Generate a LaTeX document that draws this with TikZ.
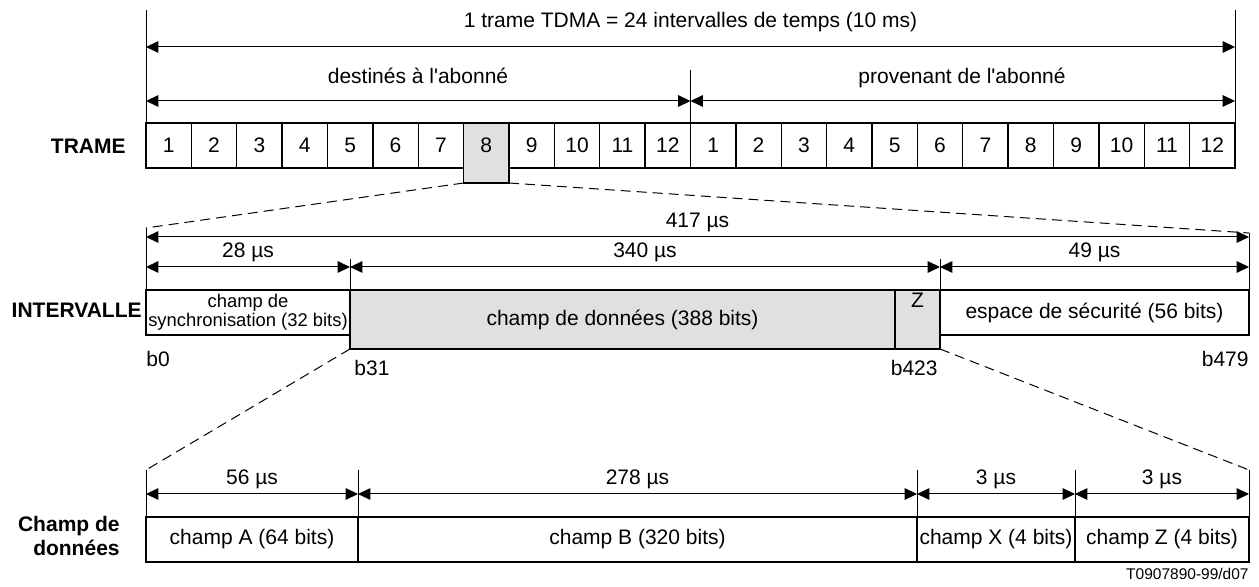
\documentclass[tikz,border=0pt]{standalone}
\usepackage{fontspec}
\setmainfont{Liberation Sans}
\usetikzlibrary{calc}
\usetikzlibrary{arrows.meta}
\usetikzlibrary{backgrounds}
\definecolor{selgrey}{RGB}{224,224,224}

\begin{document}
\begin{tikzpicture}[x=0.5pt, y=-0.5pt,
  every node/.style={font=\fontsize{10.5}{12}\selectfont},
  >={Triangle[length=6.2pt,width=5.8pt]},
  dim/.style={<->, line width=0.5pt},
  ext/.style={line width=0.4pt},
  cut/.style={dash pattern=on 5pt off 3pt, line width=0.5pt},
  box/.style={draw, line width=0.65pt, inner sep=0pt, outer sep=0pt, anchor=north west, minimum height=22.5pt},
  slot/.style={box, minimum width=22.6875pt},
  selslot/.style={slot, draw=none},
  lbl/.style={font=\fontsize{10.5}{12}\selectfont\bfseries, inner sep=0pt, anchor=east},
  dimtext/.style={inner sep=0pt}]
\useasboundingbox (0,0) rectangle (1259,587);

\foreach \i in {1,...,7,9,10,...,24} {
 \pgfmathtruncatemacro\n{mod(\i-1,12)+1}
 \node[slot] (s\i) at ({146+(\i-1)*45.375},123) {\n};
}
\node[selslot] (s8) at ({146+7*45.375},123) {8};
\begin{scope}[on background layer]
 \draw[line width=0.65pt, fill=selgrey] (s8.north west) rectangle ($(s8.south east)+(0,15)$);
\end{scope}
\node[lbl] (trame) at (126,146) {TRAME};

\draw[ext] (s1.north west) --++(0,-113);
\draw[ext] (s24.north east) --++(0,-113);
\draw[ext] (s12.north east) --++(0,-53);
\draw[dim] ($(s1.north west)+(0,-76)$) -- ($(s24.north east)+(0,-76)$);
\draw[dim] ($(s1.north west)+(0,-22)$) -- ($(s12.north east)+(0,-22)$);
\draw[dim] ($(s13.north west)+(0,-22)$) -- ($(s24.north east)+(0,-22)$);
\node[dimtext, anchor=base] (total) at (690.5,28) {1 trame TDMA = 24 intervalles de temps (10 ms)};
\node[dimtext, anchor=base] (down) at (418,84) {destinés à l\textquotesingle abonné};
\node[dimtext, anchor=base] (up) at (962,84) {provenant de l\textquotesingle abonné};

\node[box, minimum width=102pt, align=center, font=\fontsize{9.2}{9.6}\selectfont] (sync) at (146,290) {champ de\\synchronisation (32 bits)};
\node[box, minimum width=272.5pt, minimum height=29.5pt, fill=selgrey] (data) at (sync.north east) {champ de données (388 bits)};
\node[box, minimum width=22.5pt, minimum height=29.5pt, fill=selgrey, label={[inner sep=1.5pt, anchor=north]north:Z}] (zz) at (data.north east) {};
\node[box, minimum width=154.5pt] (guard) at (zz.north east) {espace de sécurité (56 bits)};
\node[lbl] (slotlbl) at (142,310) {INTERVALLE};

\coordinate (il) at (146,228);
\coordinate (ir) at (1249,233);
\draw[cut] ($(s8.south west)+(0,15)$) -- (il);
\draw[cut] ($(s8.south east)+(0,15)$) -- (ir);
\draw[ext] (il) -- (sync.north west);
\draw[ext] (ir) -- (guard.north east);
\draw[ext] (data.north west) --++(0,-31);
\draw[ext] (guard.north west) --++(0,-31);
\draw[dim] ($(sync.north west)+(0,-53)$) -- ($(guard.north east)+(0,-53)$) node[midway, dimtext, anchor=base, yshift=4.5pt] {417 µs};
\draw[dim] ($(sync.north west)+(0,-23)$) -- ($(sync.north east)+(0,-23)$) node[midway, dimtext, anchor=base, yshift=4.5pt] {28 µs};
\draw[dim] ($(data.north west)+(0,-23)$) -- ($(zz.north east)+(0,-23)$) node[midway, dimtext, anchor=base, yshift=4.5pt] {340 µs};
\draw[dim] ($(guard.north west)+(0,-23)$) -- ($(guard.north east)+(0,-23)$) node[midway, dimtext, anchor=base, yshift=4.5pt] {49 µs};
\node[dimtext, anchor=base west] (b0) at (146,367) {b0};
\node[dimtext, anchor=base west] (b31) at (354,376) {b31};
\node[dimtext, anchor=base east] (b423) at (938,376) {b423};
\node[dimtext, anchor=base east] (b479) at (1249,367) {b479};

\node[box, minimum width=106pt] (fa) at (146,517) {champ A (64 bits)};
\node[box, minimum width=279.5pt] (fb) at (fa.north east) {champ B (320 bits)};
\node[box, minimum width=79pt] (fx) at (fb.north east) {champ X (4 bits)};
\node[box, minimum width=87pt] (fz) at (fx.north east) {champ Z (4 bits)};
\node[lbl, align=right] (datalbl) at (120,536) {Champ de\\données};

\coordinate (bl) at (146,470);
\coordinate (br) at (1249,470);
\draw[cut] (data.south west) -- (bl);
\draw[cut] (zz.south east) -- (br);
\draw[ext] (bl) -- (fa.north west);
\draw[ext] (br) -- (fz.north east);
\foreach \f in {fb,fx,fz} {
 \draw[ext] (\f.north west) --++(0,-47);
}
\draw[dim] ($(fa.north west)+(0,-23)$) -- ($(fa.north east)+(0,-23)$) node[midway, dimtext, anchor=base, yshift=4.5pt] {56 µs};
\draw[dim] ($(fb.north west)+(0,-23)$) -- ($(fb.north east)+(0,-23)$) node[midway, dimtext, anchor=base, yshift=4.5pt] {278 µs};
\draw[dim] ($(fx.north west)+(0,-23)$) -- ($(fx.north east)+(0,-23)$) node[midway, dimtext, anchor=base, yshift=4.5pt] {3 µs};
\draw[dim] ($(fz.north west)+(0,-23)$) -- ($(fz.north east)+(0,-23)$) node[midway, dimtext, anchor=base, yshift=4.5pt] {3 µs};
\node[dimtext, anchor=base east, font=\fontsize{7.75}{9}\selectfont] (ref) at (1249,580) {T0907890-99/d07};
\end{tikzpicture}
\end{document}
